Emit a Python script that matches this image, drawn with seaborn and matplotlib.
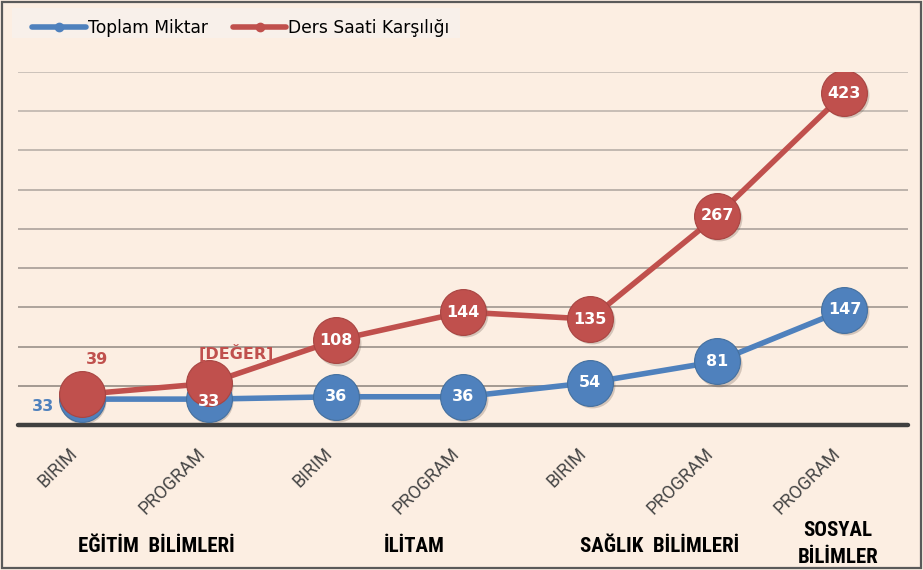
import matplotlib
matplotlib.use("Agg")
import matplotlib.pyplot as plt
import matplotlib.transforms as mtrans
from matplotlib.lines import Line2D
from matplotlib.patches import Rectangle
from matplotlib import font_manager
import seaborn as sns
import pandas as pd

# Category labels (inner level and group level)
sub_labels = ["BIRIM", "PROGRAM", "BIRIM", "PROGRAM", "BIRIM", "PROGRAM", "PROGRAM"]
group_labels = ["EĞİTİM  BİLİMLERİ", "İLİTAM", "SAĞLIK  BİLİMLERİ", "SOSYAL\nBİLİMLER"]
group_spans = [(0, 1), (2, 3), (4, 5), (6, 6)]

# Series values
toplam_miktar = [33, 33, 36, 36, 54, 81, 147]
ders_saati = [39, 53, 108, 144, 135, 267, 423]
ders_saati_labels = ["39", "[DEĞER]", "108", "144", "135", "267", "423"]

series_names = ["Toplam Miktar", "Ders Saati Karşılığı"]
colors = {"Toplam Miktar": "#4F81BD", "Ders Saati Karşılığı": "#C0504D"}
edge_colors = {"Toplam Miktar": "#44709f", "Ders Saati Karşılığı": "#a84542"}

pos = list(range(len(sub_labels)))
df = pd.DataFrame({
    "pos": pos * 2,
    "value": toplam_miktar + ders_saati,
    "series": [series_names[0]] * len(pos) + [series_names[1]] * len(pos),
})

# fonts: a narrow bold face for group names, a plain sans for the ticks
installed = {f.name for f in font_manager.fontManager.ttflist}
narrow = None
for cand in ["Roboto Condensed", "Liberation Sans Narrow", "Open Sans Condensed",
             "Noto Sans Condensed", "DejaVu Sans Condensed"]:
    if cand in installed:
        narrow = cand
        break
grp_font = [narrow, "DejaVu Sans"] if narrow else ["DejaVu Sans"]
grp_size = 15 if narrow else 12
tick_font = ["Roboto", "DejaVu Sans"] if "Roboto" in installed else ["DejaVu Sans"]
tick_size = 13 if "Roboto" in installed else 12

bg = "#FCEEE2"
sns.set_theme(style="white")
plt.rcParams["font.family"] = ["DejaVu Sans"]

fig = plt.figure(figsize=(9.23, 5.70), dpi=100, facecolor=bg)
W, H = 923, 570

# lighter panel behind the legend
fig.add_artist(Rectangle((12 / W, 1 - 38 / H), (460 - 12) / W, 30 / H,
                         transform=fig.transFigure, facecolor="#F8F0EA",
                         edgecolor="none", zorder=0))

ax = fig.add_axes([18 / W, 1 - 425 / H, (908 - 18) / W, (425 - 72) / H])
ax.set_facecolor(bg)
ax.patch.set_alpha(0)

# horizontal gridlines, darker near the baseline
grid_vals = list(range(50, 451, 50))
dark, light = (0.64, 0.60, 0.57), (0.80, 0.76, 0.73)
for k, y in enumerate(grid_vals):
    t = k / (len(grid_vals) - 1)
    c = tuple(d + (l - d) * t for d, l in zip(dark, light))
    ax.axhline(y, color=c, lw=1.4, zorder=0)
ax.axhline(0, color="#404040", lw=3.2, zorder=1, clip_on=False)

# soft drop shadow under the markers
shadow_tr = mtrans.offset_copy(ax.transData, fig=fig, x=1.2, y=-1.6, units="points")
for name in series_names:
    sub = df[df["series"] == name]
    ax.plot(sub["pos"], sub["value"], ls="none", marker="o", markersize=33,
            color="#6b5a50", alpha=0.28, markeredgewidth=0, transform=shadow_tr,
            zorder=2)

for name in series_names:
    sub = df[df["series"] == name]
    sns.lineplot(data=sub, x="pos", y="value", ax=ax, color=colors[name],
                 lw=4, marker="o", markersize=33, markeredgecolor=edge_colors[name],
                 markeredgewidth=0.8, sort=False, legend=False, zorder=3)

ax.set_xlim(-0.5, 6.5)
ax.set_ylim(0, 450)
ax.set_yticks([])
ax.set_xlabel("")
ax.set_ylabel("")
for s in ax.spines.values():
    s.set_visible(False)

ax.set_xticks(pos)
ax.set_xticklabels(sub_labels, rotation=45, ha="right", va="top",
                   fontsize=tick_size, color="#454545", family=tick_font)
ax.tick_params(axis="x", length=0, pad=14)

num_font = ["DejaVu Sans"]
lbl_kw = dict(color="white", fontsize=11.5, fontweight="bold", ha="center",
              va="center", zorder=5, family=num_font)
# Toplam Miktar labels
for i, v in enumerate(toplam_miktar):
    if i == 0:
        ax.annotate(str(v), (i, v), xytext=(-28, -5), textcoords="offset points",
                    color=colors["Toplam Miktar"], fontsize=11.5, fontweight="bold",
                    ha="center", va="center", zorder=5, family=num_font)
    elif i == 1:
        ax.annotate(str(v), (i, v), xytext=(0, -1.5), textcoords="offset points", **lbl_kw)
    else:
        ax.annotate(str(v), (i, v), xytext=(0, 0), textcoords="offset points", **lbl_kw)

# Ders Saati Karşılığı labels
for i, (v, t) in enumerate(zip(ders_saati, ders_saati_labels)):
    if i in (0, 1):
        off = (11, 25) if i == 0 else (20, 22)
        ax.annotate(t, (i, v), xytext=off, textcoords="offset points",
                    color=colors["Ders Saati Karşılığı"], fontsize=11.5,
                    fontweight="bold", ha="center", va="center", zorder=5,
                    family=num_font)
    else:
        ax.annotate(t, (i, v), xytext=(0, 0), textcoords="offset points", **lbl_kw)

# group labels under the inner category labels
group_shift = [0.09, 0.12, 0.05, -0.05]
for g, (a, b), dx in zip(group_labels, group_spans, group_shift):
    xc = (a + b) / 2 + dx
    if "\n" in g:
        ax.text(xc, 1 - (544 - 72) / (425 - 72), g,
                transform=ax.get_xaxis_transform(), ha="center", va="center",
                fontsize=grp_size, fontweight="bold", color="black",
                linespacing=1.55, family=grp_font)
    else:
        ax.text(xc, 1 - (547 - 72) / (425 - 72), g,
                transform=ax.get_xaxis_transform(), ha="center", va="center",
                fontsize=grp_size, fontweight="bold", color="black",
                family=grp_font)

handles = [Line2D([], [], color=colors[n], lw=4, marker="o", markersize=6)
           for n in series_names]
fig.legend(handles, series_names, loc="upper left", ncol=2,
           bbox_to_anchor=(17 / W, 1 - 4 / H), frameon=False,
           prop={"family": ["DejaVu Sans"], "size": 12.3},
           handlelength=3.15, handletextpad=0.1, columnspacing=1.45,
           labelcolor="black")

# outer frame
fig.add_artist(Rectangle((2 / W, 2 / H), (W - 4) / W, (H - 4) / H,
                         transform=fig.transFigure, facecolor="none",
                         edgecolor="#5a5a5a", lw=1.6, zorder=10))

fig.savefig("out.png", dpi=100, facecolor=bg)
